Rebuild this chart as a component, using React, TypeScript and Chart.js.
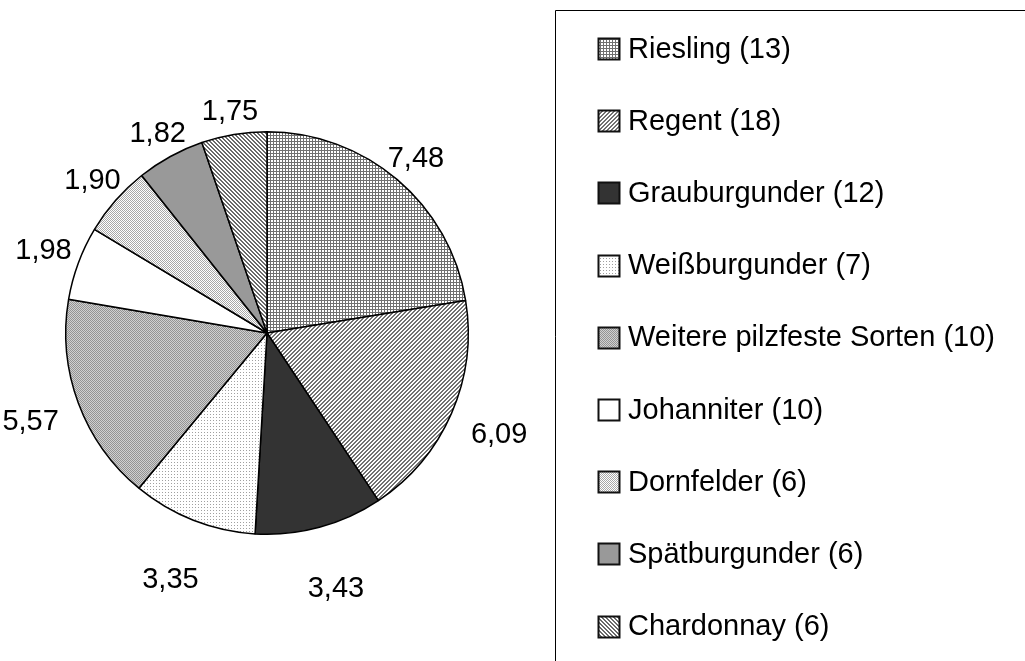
import React, { useEffect, useRef } from "react";
import { Chart, registerables } from "chart.js";

Chart.register(...registerables);

const categories = [
  "Riesling",
  "Regent",
  "Grauburgunder",
  "Weißburgunder",
  "Weitere pilzfeste Sorten",
  "Johanniter",
  "Dornfelder",
  "Spätburgunder",
  "Chardonnay",
];
const counts = [13, 18, 12, 7, 10, 10, 6, 6, 6];
const values = [7.48, 6.09, 3.43, 3.35, 5.57, 1.98, 1.9, 1.82, 1.75];
const patternKinds = [
  "grid",
  "diagUp",
  "dark",
  "dots",
  "weave",
  "white",
  "checker",
  "gray",
  "diagDown",
];

const FONT = "29px 'Liberation Sans', Arial, sans-serif";

function tile(size: number, pick: (x: number, y: number) => string | null) {
  const c = document.createElement("canvas");
  c.width = size;
  c.height = size;
  const g = c.getContext("2d")!;
  g.fillStyle = "#ffffff";
  g.fillRect(0, 0, size, size);
  for (let y = 0; y < size; y++) {
    for (let x = 0; x < size; x++) {
      const col = pick(x, y);
      if (col) {
        g.fillStyle = col;
        g.fillRect(x, y, 1, 1);
      }
    }
  }
  return g.createPattern(c, "repeat")!;
}

function makePattern(kind: string): CanvasPattern | string {
  switch (kind) {
    case "dark":
      return "#333333";
    case "white":
      return "#ffffff";
    case "gray":
      return "#999999";
    case "grid":
      return tile(3, (x, y) => (x === 0 || y === 0 ? "#707070" : null));
    case "diagUp":
      return tile(4, (x, y) => ((x + y) % 4 < 2 ? "#727272" : null));
    case "diagDown":
      return tile(4, (x, y) => (((x - y) % 4 + 4) % 4 < 2 ? "#6a6a6a" : null));
    case "dots":
      return tile(3, (x, y) => (x === 0 && y === 0 ? "#a0a0a0" : null));
    case "weave":
      return tile(2, (x, y) => ((x + y) % 2 === 0 ? "#939393" : "#d0d0d0"));
    case "checker":
      return tile(2, (x, y) => ((x + y) % 2 === 0 ? "#a8a8a8" : null));
  }
  return "#ffffff";
}

const labelPlugin = {
  id: "valueLabels",
  afterDatasetsDraw(chart: any) {
    const ctx = chart.ctx as CanvasRenderingContext2D;
    const meta = chart.getDatasetMeta(0);
    const data = chart.data.datasets[0].data as number[];
    ctx.save();
    ctx.font = FONT;
    ctx.fillStyle = "#000";
    ctx.textAlign = "center";
    ctx.textBaseline = "middle";
    meta.data.forEach((arc: any, i: number) => {
      const p = arc.getProps(["x", "y", "startAngle", "endAngle", "outerRadius"], true);
      const mid = (p.startAngle + p.endAngle) / 2;
      const cx = Math.cos(mid);
      const cy = Math.sin(mid);
      const txt = data[i].toFixed(2).replace(".", ",");
      const d = p.outerRadius + 44 + 20 * cy;
      ctx.fillText(txt, p.x + cx * d, p.y + cy * d + 1);
    });
    ctx.restore();
  },
};

const legendPlugin = {
  id: "boxLegend",
  afterDraw(chart: any) {
    const ctx = chart.ctx as CanvasRenderingContext2D;
    const bg = chart.data.datasets[0].backgroundColor as any[];
    const labels = chart.data.labels as string[];
    ctx.save();
    ctx.strokeStyle = "#000";
    ctx.lineWidth = 1;
    ctx.beginPath();
    ctx.moveTo(1030, 10.5);
    ctx.lineTo(555.5, 10.5);
    ctx.lineTo(555.5, 670);
    ctx.stroke();
    ctx.font = FONT;
    ctx.textBaseline = "middle";
    ctx.textAlign = "left";
    const top = 48.5;
    const step = 72.2;
    labels.forEach((lab, i) => {
      const yc = top + i * step;
      const s = 21;
      const x0 = 598.5;
      const y0 = Math.round(yc - s / 2) + 0.5;
      ctx.fillStyle = bg[i];
      ctx.fillRect(x0, y0, s, s);
      ctx.strokeStyle = "#111";
      ctx.lineWidth = 2;
      ctx.strokeRect(x0, y0, s, s);
      ctx.fillStyle = "#000";
      ctx.fillText(`${lab} (${counts[i]})`, 628, yc + 1);
    });
    ctx.restore();
  },
};

export default function App() {
  const ref = useRef<HTMLCanvasElement | null>(null);
  useEffect(() => {
    document.body.style.margin = "0";
    const canvas = ref.current!;
    const fills = patternKinds.map(makePattern);
    const chart = new Chart(canvas, {
      type: "pie",
      data: {
        labels: categories,
        datasets: [
          {
            data: values,
            backgroundColor: fills as any,
            borderColor: "#000000",
            borderWidth: 1.5,
          },
        ],
      },
      options: {
        responsive: false,
        animation: false,
        events: [],
        layout: {
          padding: { left: 65, top: 131, right: 1025 - 469, bottom: 661 - 535 },
        },
        plugins: {
          legend: { display: false },
          tooltip: { enabled: false },
        },
      },
      plugins: [labelPlugin, legendPlugin],
    });
    return () => chart.destroy();
  }, []);
  return (
    <div style={{ width: 1025, height: 661, background: "#fff" }}>
      <canvas ref={ref} width={1025} height={661} style={{ display: "block" }} />
    </div>
  );
}
